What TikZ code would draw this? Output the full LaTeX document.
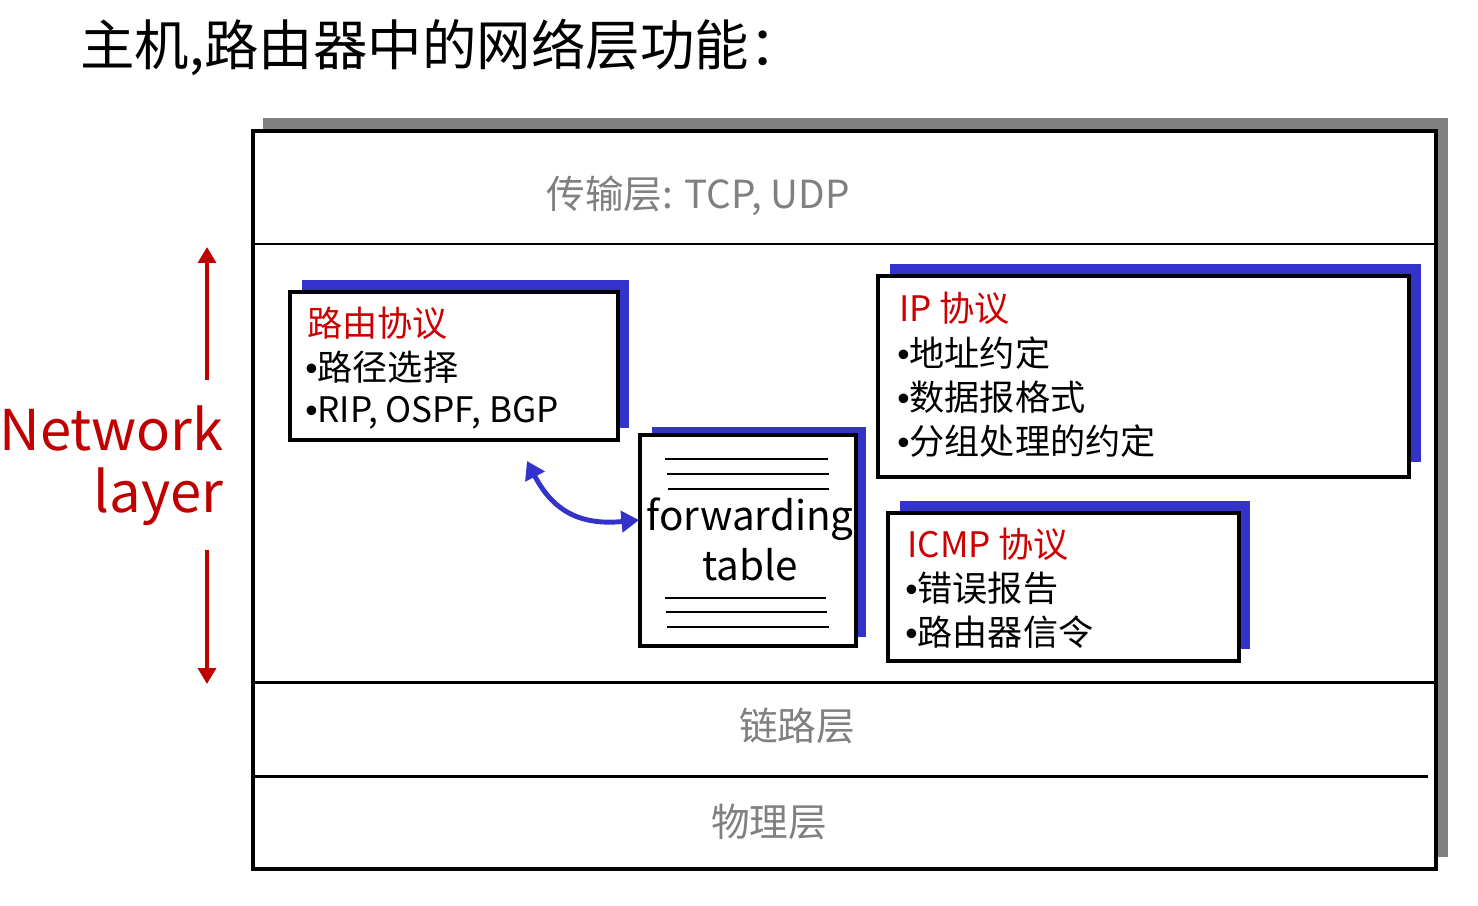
\documentclass[tikz,border=0pt]{standalone}
\usepackage{fontspec}
\setmainfont{Noto Sans CJK SC}
\newfontfamily\bulletfont{Liberation Sans}
\newcommand{\bul}{{\bulletfont •}}
\usetikzlibrary{arrows.meta,fit}
\definecolor{sblue}{RGB}{51,51,204}
\definecolor{dred}{RGB}{204,0,0}
\definecolor{nred}{RGB}{192,0,0}
\definecolor{lgray}{RGB}{128,128,128}
\begin{document}
\begin{tikzpicture}[x=0.02cm,y=-0.02cm,
  boxline/.style={draw=black,line width=1.9pt,fill=white,inner sep=0pt},
  layerline/.style={draw=black,line width=1.7pt},
  shadowblue/.style={fill=sblue},
  layertext/.style={text=lgray,font=\fontsize{22}{26}\selectfont,inner sep=0pt},
  boxtext/.style={anchor=base west,inner sep=0pt,font=\fontsize{20}{24}\selectfont},
  tabline/.style={draw=black,line width=1.4pt},
  redarrow/.style={draw=nred,line width=2.8pt,-{Triangle[length=9pt,width=10pt]}},
  bluearrow/.style={draw=sblue,line width=2.8pt,{Triangle[length=10pt,width=12pt]}-{Triangle[length=10pt,width=12pt]}}
]
\useasboundingbox (0,0) rectangle (1478,906);
% title
\node[anchor=base west,inner sep=0pt,font=\fontsize{31}{37}\selectfont] (title) at (80,65) {主机,路由器中的网络层功能：};
% outer stack
\fill[lgray] (263,118) rectangle (1448,857);
\node[boxline,fit={(253,131) (1436,869)}] (stack) {};
\draw[layerline] (255,244) -- (1436,244);
\draw[layerline] (255,682) -- (1436,682);
\draw[layerline] (253,776) -- (1428,776);
\node[layertext,anchor=base] (tl) at (698,208) {传输层: TCP, UDP};
\node[layertext] (ll) at (797,726) {链路层};
\node[layertext] (pl) at (769,822) {物理层};
% routing box
\fill[shadowblue] (302,280) rectangle (629,428);
\node[boxline,fit={(290,292) (618,440)}] (rp) {};
\node[boxtext,text=dred] (rp1) at (307,336) {路由协议};
\node[boxtext] (rp2) at (305,380) {\bul 路径选择};
\node[boxtext] (rp3) at (305,422) {\bul RIP, OSPF, BGP};
% forwarding table
\fill[shadowblue] (652,427) rectangle (866,637);
\node[boxline,fit={(640,435) (856,646)}] (ft) {};
\draw[tabline] (665,459) -- (828,459);
\draw[tabline] (667,474) -- (829,474);
\draw[tabline] (668,489) -- (829,489);
\draw[tabline] (665,598) -- (826,598);
\draw[tabline] (666,612) -- (827,612);
\draw[tabline] (667,627) -- (829,627);
\node[inner sep=0pt,anchor=base,font=\fontsize{23}{27}\selectfont] (ft1) at (750,530) {forwarding};
\node[inner sep=0pt,anchor=base,font=\fontsize{23}{27}\selectfont] (ft2) at (750,580) {table};
% IP box
\fill[shadowblue] (890,264) rectangle (1421,462);
\node[boxline,fit={(878,276) (1409,477)}] (ip) {};
\node[boxtext,text=dred] (ip1) at (899,321) {IP 协议};
\node[boxtext] (ip2) at (897,366) {\bul 地址约定};
\node[boxtext] (ip3) at (897,410) {\bul 数据报格式};
\node[boxtext] (ip4) at (897,454) {\bul 分组处理的约定};
% ICMP box
\fill[shadowblue] (900,501) rectangle (1250,649);
\node[boxline,fit={(888,513) (1239,661)}] (icmp) {};
\node[boxtext,text=dred] (ic1) at (907,557) {ICMP 协议};
\node[boxtext] (ic2) at (905,601) {\bul 错误报告};
\node[boxtext] (ic3) at (905,645) {\bul 路由器信令};
% blue arrow
\coordinate (ra) at (527,461);
\coordinate (fa) at (639,520);
\draw[bluearrow] (ra) .. controls (555,515) and (585,525) .. (fa);
% network layer
\node[anchor=base east,inner sep=0pt,text=nred,font=\fontsize{32}{38}\selectfont] (nw) at (224,450) {Network};
\node[anchor=base east,inner sep=0pt,text=nred,font=\fontsize{32}{38}\selectfont] (ly) at (224,512) {layer};
\coordinate (au0) at (207,380);
\coordinate (au1) at (207,247);
\coordinate (ad0) at (207,550);
\coordinate (ad1) at (207,684);
\draw[redarrow] (au0) -- (au1);
\draw[redarrow] (ad0) -- (ad1);
\end{tikzpicture}
\end{document}
